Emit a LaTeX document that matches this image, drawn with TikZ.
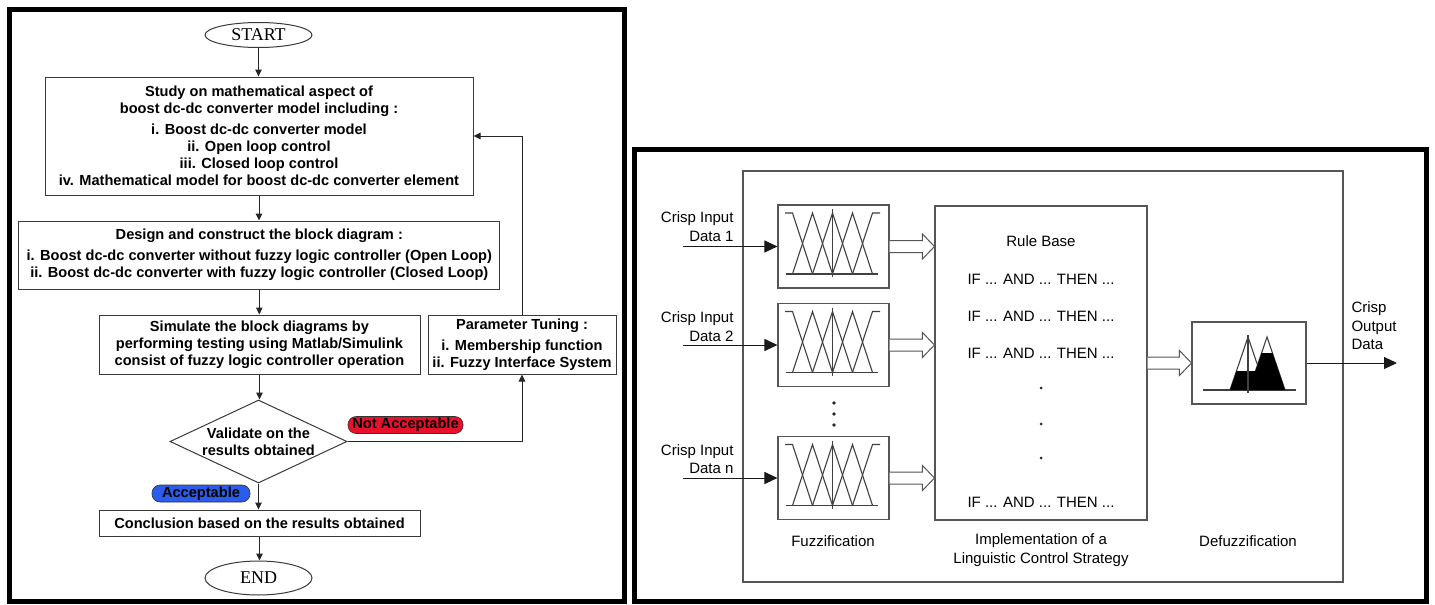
\documentclass[tikz,border=0pt]{standalone}
\usepackage{fontspec}
\setmainfont{Liberation Sans}
\newfontfamily\termfont{Liberation Serif}
\usetikzlibrary{shapes.geometric,arrows.meta,calc}
\definecolor{nared}{HTML}{E8102A}
\definecolor{acblue}{HTML}{2C5CEB}
\definecolor{lgray}{HTML}{3A3A3A}
\definecolor{rgray}{HTML}{555555}
\newcommand\hollowarrow[2]{%
  \draw[harrow] ($(#1.east)+(0,-6)$) -- ($(#2.west|-#1.east)+(-12,-6)$) -- ($(#2.west|-#1.east)+(-12,-12.5)$) -- (#2.west|-#1.east) -- ($(#2.west|-#1.east)+(-12,12.5)$) -- ($(#2.west|-#1.east)+(-12,6)$) -- ($(#1.east)+(0,6)$);}
\begin{document}
\begin{tikzpicture}[x=1pt,y=-1pt,
  frame/.style={draw=black,line width=5pt},
  lbox/.style={draw=lgray,line width=1pt,fill=white,inner sep=0pt,align=center,font=\fontsize{14.6}{17}\selectfont\bfseries},
  term/.style={ellipse,draw=lgray,line width=1pt,inner sep=0pt,font=\termfont\fontsize{18}{20}\selectfont},
  tag/.style={rounded corners=8pt,draw=black!80,line width=0.6pt,inner sep=0pt,font=\fontsize{14.6}{17}\selectfont\bfseries},
  larrow/.style={draw=black!85,line width=1pt,-{Triangle[length=7pt,width=6.5pt]}},
  rline/.style={draw=rgray,line width=1.1pt},
  rbox/.style={draw=rgray,line width=1.1pt,fill=white,inner sep=0pt},
  rtext/.style={font=\fontsize{15}{18.5}\selectfont},
  rarrow/.style={draw=black!90,line width=1pt,-{Triangle[length=13pt,width=12pt]}},
  harrow/.style={draw=rgray,line width=1pt,fill=white,line join=miter},
  mf/.style={draw=black!75,line width=1.1pt},
]
\useasboundingbox (0,0) rectangle (1435,605);
\fill[white] (0,0) rectangle (1435,605);

% frames
\draw[frame] (9.5,9.5) rectangle (624.5,601.5);
\draw[frame] (634,149.5) rectangle (1426,601.5);

% ---------------- left flowchart ----------------
\node[term,minimum width=107pt,minimum height=25pt] (start) at (258.5,35) {START};
\node[lbox,minimum width=428pt,minimum height=118pt] (study) at (259,136) {Study on mathematical aspect of\\boost dc-dc converter model including :\\[4pt]i. Boost dc-dc converter model\\ii. Open loop control\\iii. Closed loop control\\iv. Mathematical model for boost dc-dc converter element};
\node[lbox,minimum width=481pt,minimum height=68pt] (design) at (259.3,255) {Design and construct the block diagram :\\[4pt]i. Boost dc-dc converter without fuzzy logic controller (Open Loop)\\ii. Boost dc-dc converter with fuzzy logic controller (Closed Loop)};
\node[lbox,minimum width=321pt,minimum height=59pt] (sim) at (259.5,344.5) {Simulate the block diagrams by\\performing testing using Matlab/Simulink\\consist of fuzzy logic controller operation};
\node[lbox,minimum width=188pt,minimum height=59pt] (tune) at (522,344.5) {Parameter Tuning :\\[4pt]i. Membership function\\ii. Fuzzy Interface System};
\node[diamond,draw=lgray,line width=1pt,minimum width=177pt,minimum height=83pt,inner sep=0pt] (dia) at (258.5,441.5) {};
\node[lbox,draw=none,fill=none] (diatext) at (dia.center) {Validate on the\\results obtained};
\node[lbox,minimum width=321pt,minimum height=26pt] (concl) at (259.5,523) {Conclusion based on the results obtained};
\node[term,minimum width=107pt,minimum height=34pt] (end) at (258.5,578) {END};

\draw[larrow] (start.south) -- (start.south|-study.north);
\draw[larrow] (study.south) -- (study.south|-design.north);
\draw[larrow] (design.south) -- (design.south|-sim.north);
\draw[larrow] (sim.south) -- (sim.south|-dia.north);
\draw[larrow] (dia.south) -- (dia.south|-concl.north);
\draw[larrow] (concl.south) -- (concl.south|-end.north);
\draw[larrow] (dia.east) -- (dia.east-|tune.south) -- (tune.south);
\draw[larrow] (tune.north) |- (study.east);

\node[tag,fill=nared,minimum width=115pt,minimum height=17pt] (na) at (405.5,425) {Not Acceptable};
\node[tag,fill=acblue,minimum width=98pt,minimum height=17pt] (acc) at (201,493.5) {Acceptable};

% ---------------- right fuzzy controller ----------------
\draw[rline] (743,171) rectangle (1343,582);
\node[rbox,minimum width=111pt,minimum height=83pt] (f1) at (833.5,246.5) {};
\node[rbox,minimum width=111pt,minimum height=83pt] (f2) at (833.5,345) {};
\node[rbox,minimum width=111pt,minimum height=83pt] (fn) at (833.5,478) {};
\node[rbox,minimum width=212pt,minimum height=314pt] (rb) at (1041,363) {};
\node[rbox,minimum width=114pt,minimum height=82pt] (df) at (1249,363) {};

\foreach \b in {f1,f2,fn}{
  \begin{scope}[shift={(\b.center)}]
    \draw[mf] (-47.5,27.5) -- (44.5,27.5);
    \draw[mf] (-48.5,-33.5) -- (-41,-33.5) -- (-21,27.5);
    \draw[mf] (-41,27.5) -- (-21,-33.5) -- (-1,27.5);
    \draw[mf] (-21,27.5) -- (-1,-33.5) -- (19,27.5);
    \draw[mf] (-1,27.5) -- (19,-33.5) -- (39,27.5);
    \draw[mf] (19,27.5) -- (39,-33.5) -- (46.5,-33.5);
    \draw[mf] (-1,-37.5) -- (-1,30.5);
  \end{scope}
}

\begin{scope}[shift={(df.center)}]
  \draw[mf] (-46,27) -- (47,27);
  \draw[mf] (-19,27) -- (-1,-26) -- (17,27);
  \draw[mf] (0,27) -- (18,-26) -- (36,27);
  \fill[black] (-19,27) -- (-12.5,8) -- (6.5,8) -- (12.6,-10) -- (23.4,-10) -- (36,27) -- cycle;
  \draw[mf] (-1,-28) -- (-1,30);
\end{scope}

\hollowarrow{f1}{rb}
\hollowarrow{f2}{rb}
\hollowarrow{fn}{rb}
\hollowarrow{rb}{df}

\coordinate (in1) at (683,246.5);
\coordinate (in2) at (683,345);
\coordinate (inn) at (683,478);
\coordinate (out) at (1397,363);
\draw[rarrow] (in1) -- (f1.west);
\draw[rarrow] (in2) -- (f2.west);
\draw[rarrow] (inn) -- (fn.west);
\draw[rarrow] (df.east) -- (out);

\node[rtext,align=right,anchor=east] (l1) at (737,226.5) {Crisp Input\\Data 1};
\node[rtext,align=right,anchor=east] (l2) at (737,326.5) {Crisp Input\\Data 2};
\node[rtext,align=right,anchor=east] (ln) at (737,459) {Crisp Input\\Data n};
\node[rtext,align=left,anchor=west] (lo) at (1348,326) {Crisp\\Output\\Data};

\node[rtext] (rbt) at (1041,241) {Rule Base};
\node[rtext] (r1) at (1041,279) {IF ... AND ... THEN ...};
\node[rtext] (r2) at (1041,316) {IF ... AND ... THEN ...};
\node[rtext] (r3) at (1041,353) {IF ... AND ... THEN ...};
\node[rtext] (rN) at (1041,502) {IF ... AND ... THEN ...};
\fill[black!85] (1041,388) circle (1.5pt);
\fill[black!85] (1041,424) circle (1.5pt);
\fill[black!85] (1041,458) circle (1.5pt);
\fill[black!85] (834,403) circle (1.8pt);
\fill[black!85] (834,414) circle (1.8pt);
\fill[black!85] (834,425) circle (1.8pt);

\node[rtext] (lf) at (833,541) {Fuzzification};
\node[rtext,align=center] (li) at (1041,550) {Implementation of a\\Linguistic Control Strategy};
\node[rtext] (ld) at (1248,541) {Defuzzification};
\end{tikzpicture}
\end{document}
